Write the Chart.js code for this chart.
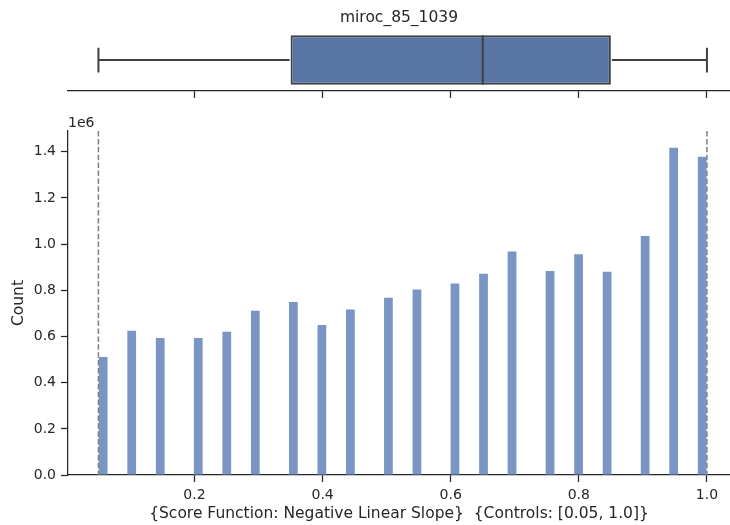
<!DOCTYPE html>
<html>
<head>
<meta charset="utf-8">
<script src="https://cdn.jsdelivr.net/npm/chart.js@4"></script>
<style>
  html, body { margin: 0; padding: 0; background: #ffffff; overflow: hidden; }
  #wrap { position: relative; width: 730px; height: 525px; }
  canvas { position: absolute; left: 0; top: 0; }
</style>
</head>
<body>
<div id="wrap">
  <canvas id="hist" width="730" height="525"></canvas>
  <canvas id="box" width="730" height="98"></canvas>
</div>
<script>
// ---- data ----
const chartTitle = 'miroc_85_1039';
const scoreValues = [0.05, 0.10, 0.15, 0.20, 0.25, 0.30, 0.35, 0.40, 0.45, 0.50,
                     0.55, 0.60, 0.65, 0.70, 0.75, 0.80, 0.85, 0.90, 0.95, 1.00];
const counts = [511600, 625000, 594000, 594000, 621000, 712000, 750000, 650000, 717000, 768000,
                804000, 830000, 872000, 968000, 884000, 956000, 881000, 1035000, 1417000, 1379000];
const binRange = [0.05, 1.0];
const binCount = 64;
const boxStats = [0.05, 0.35, 0.65, 0.85, 1.0]; // whisker low, q1, median, q3, whisker high
const controls = [0.05, 1.0];
const xTicks = [0.2, 0.4, 0.6, 0.8, 1.0];
const yTicks = [0, 0.2e6, 0.4e6, 0.6e6, 0.8e6, 1.0e6, 1.2e6, 1.4e6];
const xLabel = '{Score Function: Negative Linear Slope}  {Controls: [0.05, 1.0]}';
const yLabel = 'Count';

// ---- histogram bins built from the values ----
const binW = (binRange[1] - binRange[0]) / binCount;
const bins = new Array(binCount).fill(0);
scoreValues.forEach((v, i) => {
  const idx = Math.min(Math.floor((v - binRange[0]) / binW + 1e-9), binCount - 1);
  bins[idx] += counts[i];
});
const histData = bins.map((c, i) => ({ x: binRange[0] + (i + 0.5) * binW, y: c }));

const X_MIN = 0.0025, X_MAX = 1.036;
const INK = '#262626';
const TICK_FONT = 14, LABEL_FONT = 15.5;
Chart.defaults.font.family = 'DejaVu Sans';
Chart.defaults.font.size = TICK_FONT;
Chart.defaults.color = INK;

const axisGrid = { drawOnChartArea: false, drawTicks: true, tickLength: 7, tickColor: INK, tickWidth: 1.25, offset: false };
const axisBorder = { display: true, color: INK, width: 1.25 };

// ---- histogram ----
const controlLines = {
  id: 'controlLines',
  afterDatasetsDraw(chart) {
    const { ctx, chartArea, scales } = chart;
    ctx.save();
    ctx.strokeStyle = '#808080';
    ctx.lineWidth = 1.5;
    ctx.setLineDash([5.5, 2.4]);
    controls.forEach(c => {
      const px = scales.x.getPixelForValue(c);
      ctx.beginPath();
      ctx.moveTo(px, chartArea.top);
      ctx.lineTo(px, chartArea.bottom);
      ctx.stroke();
    });
    ctx.setLineDash([]);
    ctx.fillStyle = INK;
    ctx.font = TICK_FONT + 'px "DejaVu Sans"';
    ctx.textAlign = 'left';
    ctx.textBaseline = 'alphabetic';
    ctx.fillText('1e6', chartArea.left, chartArea.top - 4);
    ctx.restore();
  }
};

new Chart(document.getElementById('hist'), {
  type: 'bar',
  data: {
    datasets: [{
      data: histData,
      backgroundColor: 'rgb(121,149,196)',
      borderWidth: 0,
      barPercentage: 0.92,
      categoryPercentage: 1.0
    }]
  },
  options: {
    responsive: false,
    animation: false,
    devicePixelRatio: 1,
    layout: { padding: { top: 131, right: 0, bottom: 6.8, left: 0 } },
    plugins: { legend: { display: false }, tooltip: { enabled: false } },
    scales: {
      x: {
        type: 'linear',
        offset: false,
        min: X_MIN, max: X_MAX,
        afterBuildTicks: s => { s.ticks = xTicks.map(v => ({ value: v })); },
        ticks: { padding: 5, color: INK, callback: v => v.toFixed(1), maxRotation: 0 },
        grid: axisGrid,
        border: axisBorder,
        title: { display: true, text: xLabel, color: INK, font: { size: LABEL_FONT, lineHeight: 0.6 }, padding: { top: 0, bottom: 0 } }
      },
      y: {
        min: 0, max: 1.49e6,
        afterBuildTicks: s => { s.ticks = yTicks.map(v => ({ value: v })); },
        ticks: { padding: 5, color: INK, callback: v => (v / 1e6).toFixed(1) },
        grid: axisGrid,
        border: axisBorder,
        title: { display: true, text: yLabel, color: INK, font: { size: LABEL_FONT }, padding: { top: 10, bottom: 0 } },
        afterFit: s => { s.width = 68; }
      }
    }
  },
  plugins: [controlLines]
});

// ---- box plot ----
const EDGE = '#404040';
const boxParts = {
  id: 'boxParts',
  afterDatasetsDraw(chart) {
    const { ctx, scales } = chart;
    const el = chart.getDatasetMeta(0).data[0];
    const y = el.y, h = el.height;
    const px = v => scales.x.getPixelForValue(v);
    const [lo, q1, med, q3, hi] = boxStats;
    ctx.save();
    ctx.strokeStyle = EDGE;
    ctx.lineWidth = 2;
    ctx.beginPath();
    ctx.moveTo(px(lo), y); ctx.lineTo(px(q1) - 1, y);
    ctx.moveTo(px(q3) + 1, y); ctx.lineTo(px(hi), y);
    ctx.moveTo(px(lo), y - h * 0.25); ctx.lineTo(px(lo), y + h * 0.25);
    ctx.moveTo(px(hi), y - h * 0.25); ctx.lineTo(px(hi), y + h * 0.25);
    ctx.moveTo(px(med), y - h / 2); ctx.lineTo(px(med), y + h / 2);
    ctx.stroke();
    ctx.restore();
  }
};

new Chart(document.getElementById('box'), {
  type: 'bar',
  data: {
    labels: [chartTitle],
    datasets: [{
      data: [[boxStats[1], boxStats[3]]],
      backgroundColor: 'rgb(89,117,164)',
      borderColor: EDGE,
      borderWidth: 2,
      borderSkipped: false,
      barPercentage: 0.8,
      categoryPercentage: 1.0
    }]
  },
  options: {
    indexAxis: 'y',
    responsive: false,
    animation: false,
    devicePixelRatio: 1,
    layout: { padding: { top: 0, right: 0, bottom: 0, left: 68 } },
    plugins: {
      legend: { display: false },
      tooltip: { enabled: false },
      title: { display: true, text: chartTitle, color: INK, font: { size: LABEL_FONT, weight: 'normal' }, padding: { top: 9, bottom: 1.5 } }
    },
    scales: {
      x: {
        type: 'linear',
        min: X_MIN, max: X_MAX,
        afterBuildTicks: s => { s.ticks = xTicks.map(v => ({ value: v })); },
        ticks: { display: false },
        grid: axisGrid,
        border: axisBorder
      },
      y: { type: 'category', display: false, offset: true }
    }
  },
  plugins: [boxParts]
});
</script>
</body>
</html>
